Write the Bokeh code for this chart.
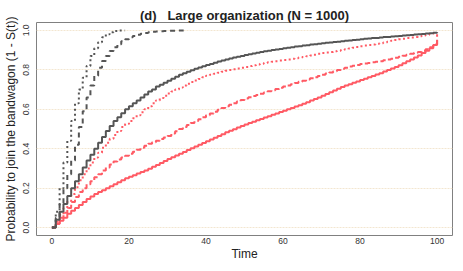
from bokeh.plotting import figure
from bokeh.models import FixedTicker
from bokeh.embed import file_html
from bokeh.resources import INLINE

# ---------------- data ----------------
x_ticks = [0, 20, 40, 60, 80, 100]
y_ticks = [0.0, 0.2, 0.4, 0.6, 0.8, 1.0]
y_tick_labels = ["0.0", "0.2", "0.4", "0.6", "0.8", "1.0"]

gray_dotted = [0, 0.08, 0.2, 0.33, 0.44, 0.54, 0.63, 0.70, 0.76, 0.82, 0.87, 0.91,
               0.94, 0.965, 0.98, 0.99, 0.997, 1.0, 1.0, 1.0]

gray_dashed = [0, 0.05, 0.12, 0.2, 0.27, 0.34, 0.42, 0.51, 0.59, 0.66, 0.72, 0.77,
               0.81, 0.845, 0.87, 0.895, 0.915, 0.93, 0.945, 0.955, 0.965, 0.972,
               0.978, 0.983, 0.987, 0.99, 0.993, 0.995, 0.996, 0.997, 0.998, 0.998,
               0.999, 0.999, 1.0, 1.0]

gray_solid = [0, 0.04, 0.08, 0.12, 0.16, 0.2, 0.235, 0.27, 0.305, 0.34, 0.37, 0.40,
              0.43, 0.46, 0.49, 0.515, 0.54, 0.56, 0.58, 0.60, 0.615, 0.63, 0.645,
              0.66, 0.675, 0.69, 0.70, 0.715, 0.725, 0.735, 0.745, 0.755, 0.765,
              0.775, 0.783, 0.79, 0.798, 0.805, 0.812, 0.818, 0.825, 0.83, 0.836,
              0.842, 0.847, 0.852, 0.857, 0.862, 0.866, 0.87, 0.875, 0.879, 0.883,
              0.887, 0.89, 0.894, 0.897, 0.90, 0.903, 0.906, 0.909, 0.912, 0.915,
              0.918, 0.92, 0.923, 0.925, 0.928, 0.93, 0.932, 0.935, 0.937, 0.939,
              0.941, 0.943, 0.945, 0.947, 0.949, 0.951, 0.953, 0.955, 0.957, 0.959,
              0.961, 0.962, 0.964, 0.966, 0.967, 0.969, 0.97, 0.972, 0.974, 0.975,
              0.977, 0.979, 0.98, 0.982, 0.984, 0.986, 0.988, 0.99]

red_dotted = [0, 0.03, 0.065, 0.1, 0.135, 0.17, 0.205, 0.24, 0.27, 0.30, 0.33, 0.355,
              0.38, 0.405, 0.43, 0.45, 0.47, 0.49, 0.51, 0.525, 0.54, 0.555, 0.57,
              0.585, 0.6, 0.615, 0.63, 0.645, 0.657, 0.668, 0.68, 0.69, 0.70, 0.71,
              0.72, 0.73, 0.738, 0.746, 0.754, 0.762, 0.77, 0.775, 0.78, 0.785, 0.79,
              0.795, 0.799, 0.803, 0.807, 0.811, 0.815, 0.819, 0.823, 0.827, 0.831,
              0.835, 0.838, 0.841, 0.844, 0.847, 0.85, 0.853, 0.856, 0.859, 0.862,
              0.865, 0.869, 0.873, 0.877, 0.881, 0.885, 0.888, 0.891, 0.894, 0.897,
              0.90, 0.904, 0.908, 0.912, 0.916, 0.92, 0.923, 0.926, 0.929, 0.932,
              0.935, 0.939, 0.943, 0.947, 0.951, 0.955, 0.958, 0.961, 0.964, 0.967,
              0.97, 0.974, 0.978, 0.982, 0.986, 0.99]

red_dashed = [0, 0.02, 0.05, 0.075, 0.1, 0.13, 0.155, 0.18, 0.2, 0.22, 0.235, 0.255,
              0.27, 0.29, 0.305, 0.32, 0.335, 0.345, 0.355, 0.365, 0.375, 0.385,
              0.395, 0.405, 0.415, 0.425, 0.433, 0.441, 0.449, 0.457, 0.465, 0.477,
              0.489, 0.5, 0.51, 0.52, 0.53, 0.54, 0.55, 0.56, 0.57, 0.579, 0.588,
              0.597, 0.606, 0.615, 0.623, 0.631, 0.639, 0.647, 0.655, 0.661, 0.667,
              0.673, 0.679, 0.685, 0.691, 0.697, 0.703, 0.709, 0.715, 0.721, 0.727,
              0.733, 0.739, 0.745, 0.751, 0.757, 0.763, 0.769, 0.775, 0.781, 0.787,
              0.793, 0.799, 0.805, 0.811, 0.817, 0.821, 0.825, 0.829, 0.832, 0.835,
              0.838, 0.841, 0.844, 0.848, 0.852, 0.856, 0.861, 0.866, 0.871, 0.876,
              0.881, 0.886, 0.89, 0.897, 0.905, 0.915, 0.93, 0.98]

red_solid = [0, 0.02, 0.035, 0.05, 0.07, 0.085, 0.1, 0.115, 0.13, 0.145, 0.158, 0.17,
             0.18, 0.19, 0.2, 0.21, 0.22, 0.23, 0.24, 0.25, 0.258, 0.266, 0.274,
             0.282, 0.29, 0.298, 0.308, 0.318, 0.328, 0.338, 0.348, 0.357, 0.366,
             0.375, 0.384, 0.393, 0.402, 0.411, 0.42, 0.429, 0.438, 0.447, 0.456,
             0.465, 0.474, 0.483, 0.491, 0.499, 0.507, 0.515, 0.523, 0.53, 0.537,
             0.544, 0.551, 0.558, 0.565, 0.572, 0.579, 0.586, 0.593, 0.6, 0.607,
             0.614, 0.621, 0.628, 0.636, 0.644, 0.652, 0.66, 0.668, 0.677, 0.686,
             0.695, 0.704, 0.713, 0.72, 0.727, 0.734, 0.741, 0.748, 0.755, 0.762,
             0.769, 0.776, 0.783, 0.791, 0.799, 0.807, 0.815, 0.823, 0.833, 0.843,
             0.853, 0.863, 0.873, 0.885, 0.897, 0.91, 0.926, 0.95]

series = [
    # (values, color, dash)
    (red_solid, "#ff5a64", "solid"),
    (red_dashed, "#ff5a64", "6 3"),
    (red_dotted, "#ff5a64", "2 3"),
    (gray_solid, "#555555", "solid"),
    (gray_dashed, "#555555", "5 4"),
    (gray_dotted, "#555555", "2 3"),
]

FONT = "Liberation Sans"
TITLE = "(d)\u00a0\u00a0 Large organization (N = 1000)"

p = figure(width=455, height=263, output_backend="svg", toolbar_location=None,
           x_range=(-4, 104), y_range=(-0.04, 1.04),
           min_border_left=36, min_border_right=3, min_border_top=22,
           min_border_bottom=24, title=TITLE,
           x_axis_label="Time",
           y_axis_label="Probability to join the bandwagon (1 - S(t))")

p.title.align = "center"
p.title.text_font = FONT
p.title.text_font_style = "bold"
p.title.text_font_size = "13px"
p.title.text_color = "#222222"
p.title.standoff = 0
p.title.offset = 0

p.background_fill_color = "white"
p.border_fill_color = "white"
p.outline_line_color = "#808080"
p.outline_line_width = 1

p.xgrid.visible = False
p.ygrid.ticker = FixedTicker(ticks=y_ticks)
p.ygrid.grid_line_color = "#f3e6d0"
p.ygrid.grid_line_width = 1
p.ygrid.grid_line_dash = "2 1"

for ax in (p.xaxis[0], p.yaxis[0]):
    ax.axis_line_color = None
    ax.major_tick_out = 0
    ax.major_tick_in = 0
    ax.minor_tick_out = 0
    ax.minor_tick_in = 0
    ax.major_label_text_font = FONT
    ax.major_label_text_font_size = "8.5px"
    ax.major_label_text_color = "#333333"
    ax.axis_label_text_font = FONT
    ax.axis_label_text_font_size = "12px"
    ax.axis_label_text_font_style = "normal"
    ax.axis_label_text_color = "#222222"
    ax.axis_label_standoff = 0

p.xaxis[0].ticker = FixedTicker(ticks=x_ticks)
p.xaxis[0].major_label_standoff = 2
p.yaxis[0].ticker = FixedTicker(ticks=y_ticks)
p.yaxis[0].major_label_overrides = {t: s for t, s in zip(y_ticks, y_tick_labels)}
p.yaxis[0].major_label_orientation = "vertical"
p.yaxis[0].major_label_standoff = 7
p.yaxis[0].axis_label_standoff = 3

for vals, color, dash in series:
    xs = list(range(len(vals)))
    p.step(xs, vals, mode="after", line_color=color, line_width=2, line_dash=dash)

open("out.html", "w").write(file_html(p, INLINE))
